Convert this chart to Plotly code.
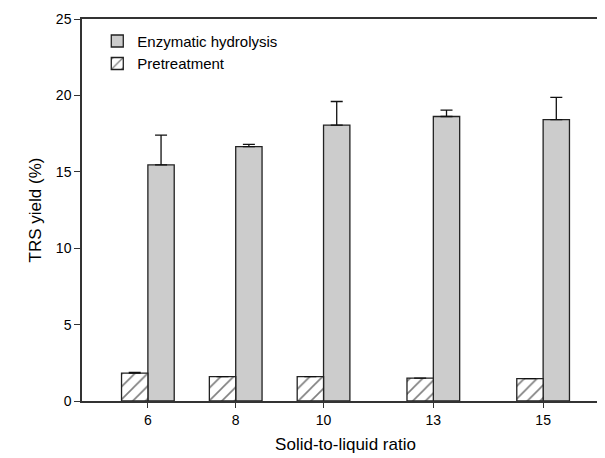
import plotly.graph_objects as go

# Data
ratio_labels = ["6", "8", "10", "13", "15"]
ratio_positions = [6, 8, 10, 12.5, 15]
enzymatic = [15.45, 16.65, 18.05, 18.62, 18.42]
enzymatic_err = [1.95, 0.15, 1.55, 0.42, 1.45]
pretreatment = [1.82, 1.6, 1.6, 1.5, 1.47]
pretreatment_err = [0.05, 0.0, 0.0, 0.0, 0.0]

FONT = "Liberation Sans, Arial, sans-serif"
LINE = "#333333"

fig = go.Figure()

fig.add_trace(go.Bar(
    x=ratio_positions, y=enzymatic, name="Enzymatic hydrolysis",
    offset=0, width=0.6,
    marker=dict(color="#cccccc", line=dict(color="#222222", width=1.3)),
    error_y=dict(type="data", symmetric=False, array=enzymatic_err,
                 arrayminus=[0] * len(enzymatic_err),
                 color="#111111", thickness=1.3, width=6),
))
fig.add_trace(go.Bar(
    x=ratio_positions, y=pretreatment, name="Pretreatment",
    offset=-0.6, width=0.6,
    marker=dict(color="white", line=dict(color="#222222", width=1.3),
                pattern=dict(shape="/", fgcolor="#000000", bgcolor="white",
                             size=9, solidity=0.18)),
    error_y=dict(type="data", symmetric=False, array=pretreatment_err,
                 arrayminus=[0] * len(pretreatment_err),
                 color="#111111", thickness=1.3, width=6),
))
# invisible trace to anchor the right-hand tick axis
fig.add_trace(go.Scatter(x=ratio_positions, y=enzymatic, yaxis="y2",
                         mode="none", showlegend=False, hoverinfo="skip"))

fig.update_layout(
    width=605, height=458,
    margin=dict(l=74, r=2, t=11, b=65),
    paper_bgcolor="white", plot_bgcolor="white",
    font=dict(family=FONT, size=14, color="black"),
    showlegend=True,
    legend=dict(x=0.029, y=0.985, xanchor="left", yanchor="top",
                bgcolor="rgba(0,0,0,0)", font=dict(size=15),
                tracegroupgap=0, itemwidth=30),
    xaxis=dict(range=[4.5, 16.5], tickvals=ratio_positions, ticktext=ratio_labels,
               ticks="outside", ticklen=5, tickcolor=LINE, tickwidth=1.3,
               showline=True, linecolor=LINE, linewidth=1.5, mirror=True,
               showgrid=False, zeroline=False,
               title=dict(text="Solid-to-liquid ratio", font=dict(size=17), standoff=12),
               tickfont=dict(size=14)),
    yaxis=dict(range=[0, 25], tickvals=[0, 5, 10, 15, 20, 25],
               ticks="outside", ticklen=6, tickcolor=LINE, tickwidth=1.3,
               showline=True, linecolor=LINE, linewidth=1.5, mirror=True,
               showgrid=False, zeroline=False,
               title=dict(text="TRS yield (%)", font=dict(size=17), standoff=10),
               tickfont=dict(size=14)),
    yaxis2=dict(range=[0, 25], overlaying="y", side="right",
                tickvals=[5, 10, 15, 20], ticks="inside", ticklen=5,
                tickcolor=LINE, tickwidth=1.3, showticklabels=False,
                showline=False, showgrid=False, zeroline=False),
)

fig.write_html("out.html")
